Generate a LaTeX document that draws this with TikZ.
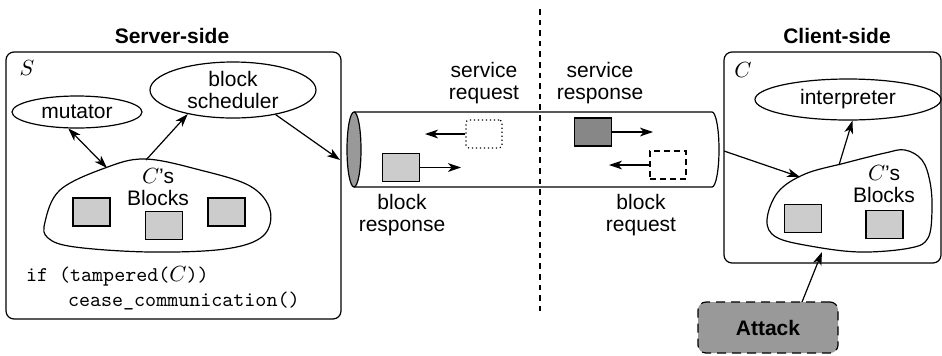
\documentclass[tikz,border=0pt]{standalone}
\usepackage{fontspec}
\setmainfont{Liberation Sans}
\usetikzlibrary{shapes.geometric,arrows.meta}
\tikzset{
  every node/.style={font=\fontsize{10.5}{11}\selectfont, align=center},
  title/.style={font=\fontsize{10.5}{11}\selectfont\bfseries},
  frame/.style={draw, rounded corners=4pt, line width=0.6pt, inner sep=0pt},
  oval/.style={draw, ellipse, line width=0.6pt, inner sep=0pt},
  blk/.style={draw, fill=black!20, line width=0.6pt, minimum width=18.5pt, minimum height=14pt, inner sep=0pt},
  head/.tip={Stealth[length=6.5pt,width=4.4pt,inset=1.8pt]},
  tip/.style={-head, line width=0.6pt},
  dtip/.style={head-head, line width=0.6pt},
  code/.style={font=\fontsize{10.5}{11}\selectfont\ttfamily, anchor=west},
  blob/.style={draw, line width=0.6pt}
}
\begin{document}
\begin{tikzpicture}[x=0.5pt, y=-0.5pt]
\useasboundingbox (0,0) rectangle (942,355);

% ---------- server side ----------
\node[title] (srvtitle) at (172,36) {Server-side};
\node[frame, minimum width=167.5pt, minimum height=133.5pt] (srv) at (173.5,185.5) {};
\node (slabel) at (27,68) {$S$};
\node[oval, minimum width=65pt, minimum height=16pt] (mut) at (77,112) {mutator};
\node[oval, minimum width=83pt, minimum height=28pt] (sched) at (233,90) {block\\scheduler};

\draw[blob] plot[smooth cycle, tension=0.6] coordinates {
  (45,222) (60,190) (105,168) (145,159) (200,170) (250,186) (270,210)
  (263,236) (225,249) (150,252) (75,247) (48,238)};
\node (sblobtxt) at (158,187) {$C$'s\\Blocks};
\node[blk] (sb1) at (91.5,212) {};
\node[blk] (sb2) at (164,225.5) {};
\node[blk] (sb3) at (226.5,212) {};
\coordinate (sblobA) at (107,168);
\coordinate (sblobB) at (146,160);

\draw[dtip] (mut.-118) -- (sblobA);
\draw[tip] (sblobB) -- (sched.208);

\node[code] (code1) at (19,276) {if (tampered($C$))};
\node[code] (code2) at (61,301) {cease\_communication()};

% ---------- channel ----------
\draw[line width=0.6pt, dash pattern=on 2.8pt off 2.5pt] (540,9) -- (540,313);
\coordinate (tubeTL) at (354,112);
\coordinate (tubeBL) at (354,187);
\draw[line width=0.6pt] (tubeBL) -- (712,187) arc[start angle=-90, end angle=90, x radius=3.5pt, y radius=18.75pt] -- (tubeTL);
\node[oval, fill=black!40, minimum width=7pt, minimum height=37.5pt] (tubeL) at (354,149.5) {};

\coordinate (srvin) at (340,160);
\draw[tip] (sched.-30) -- (srvin);

\node (sreqtxt) at (484,83.5) {service\\request};
\node[draw, rounded corners=1.5pt, line width=0.6pt, dash pattern=on 0.6pt off 1.4pt, minimum width=18pt, minimum height=14pt, inner sep=0pt] (sreq) at (484,134) {};
\coordinate (sreqend) at (425,134);
\draw[tip] (sreq.west) -- (sreqend);

\node[blk] (bresp) at (401,167.5) {};
\coordinate (brespend) at (461,167.5);
\draw[tip] (bresp.east) -- (brespend);
\node (bresptxt) at (402,215.5) {block\\response};

\node (sresptxt) at (600,83.5) {service\\response};
\node[blk, fill=black!47] (sresp) at (593,132) {};
\coordinate (sresend) at (653,132);
\draw[tip] (sresp.east) -- (sresend);

\node[draw, line width=0.6pt, dash pattern=on 3pt off 2pt, minimum width=18pt, minimum height=14pt, inner sep=0pt] (breq) at (668,165) {};
\coordinate (breqend) at (609,165);
\draw[tip] (breq.west) -- (breqend);
\node (breqtxt) at (641,215.5) {block\\request};

% ---------- client side ----------
\node[title] (clititle) at (837,36) {Client-side};
\node[frame, minimum width=108.5pt, minimum height=105.5pt] (cli) at (832.5,157.5) {};
\node (clabel) at (743,70) {$C$};
\node[oval, minimum width=93pt, minimum height=20.5pt] (interp) at (848,99.5) {interpreter};

\draw[blob] plot[smooth cycle, tension=0.6] coordinates {
  (767,220) (778,192) (805,174) (845,163) (885,153) (905,150) (922,160)
  (930,182) (932,210) (928,238) (910,248) (860,252) (810,246) (776,237)};
\node (cblobtxt) at (884,184.5) {$C$'s\\Blocks};
\node[blk] (cb1) at (803,218.5) {};
\node[blk] (cb2) at (884.5,224.5) {};
\coordinate (cblobA) at (800,177);
\coordinate (cblobB) at (839,165);
\coordinate (cblobC) at (822,252);
\coordinate (cliin) at (724,151);

\draw[tip] (cliin) -- (cblobA);
\draw[tip] (cblobB) -- (interp.-78);

\node[draw, fill=black!40, rounded corners=4pt, line width=0.6pt, dash pattern=on 4.5pt off 3pt, minimum width=70pt, minimum height=25.5pt, inner sep=0pt, title] (attack) at (768,327.5) {Attack};
\coordinate (attackA) at (802,302);
\draw[tip] (attackA) -- (cblobC);
\end{tikzpicture}
\end{document}
